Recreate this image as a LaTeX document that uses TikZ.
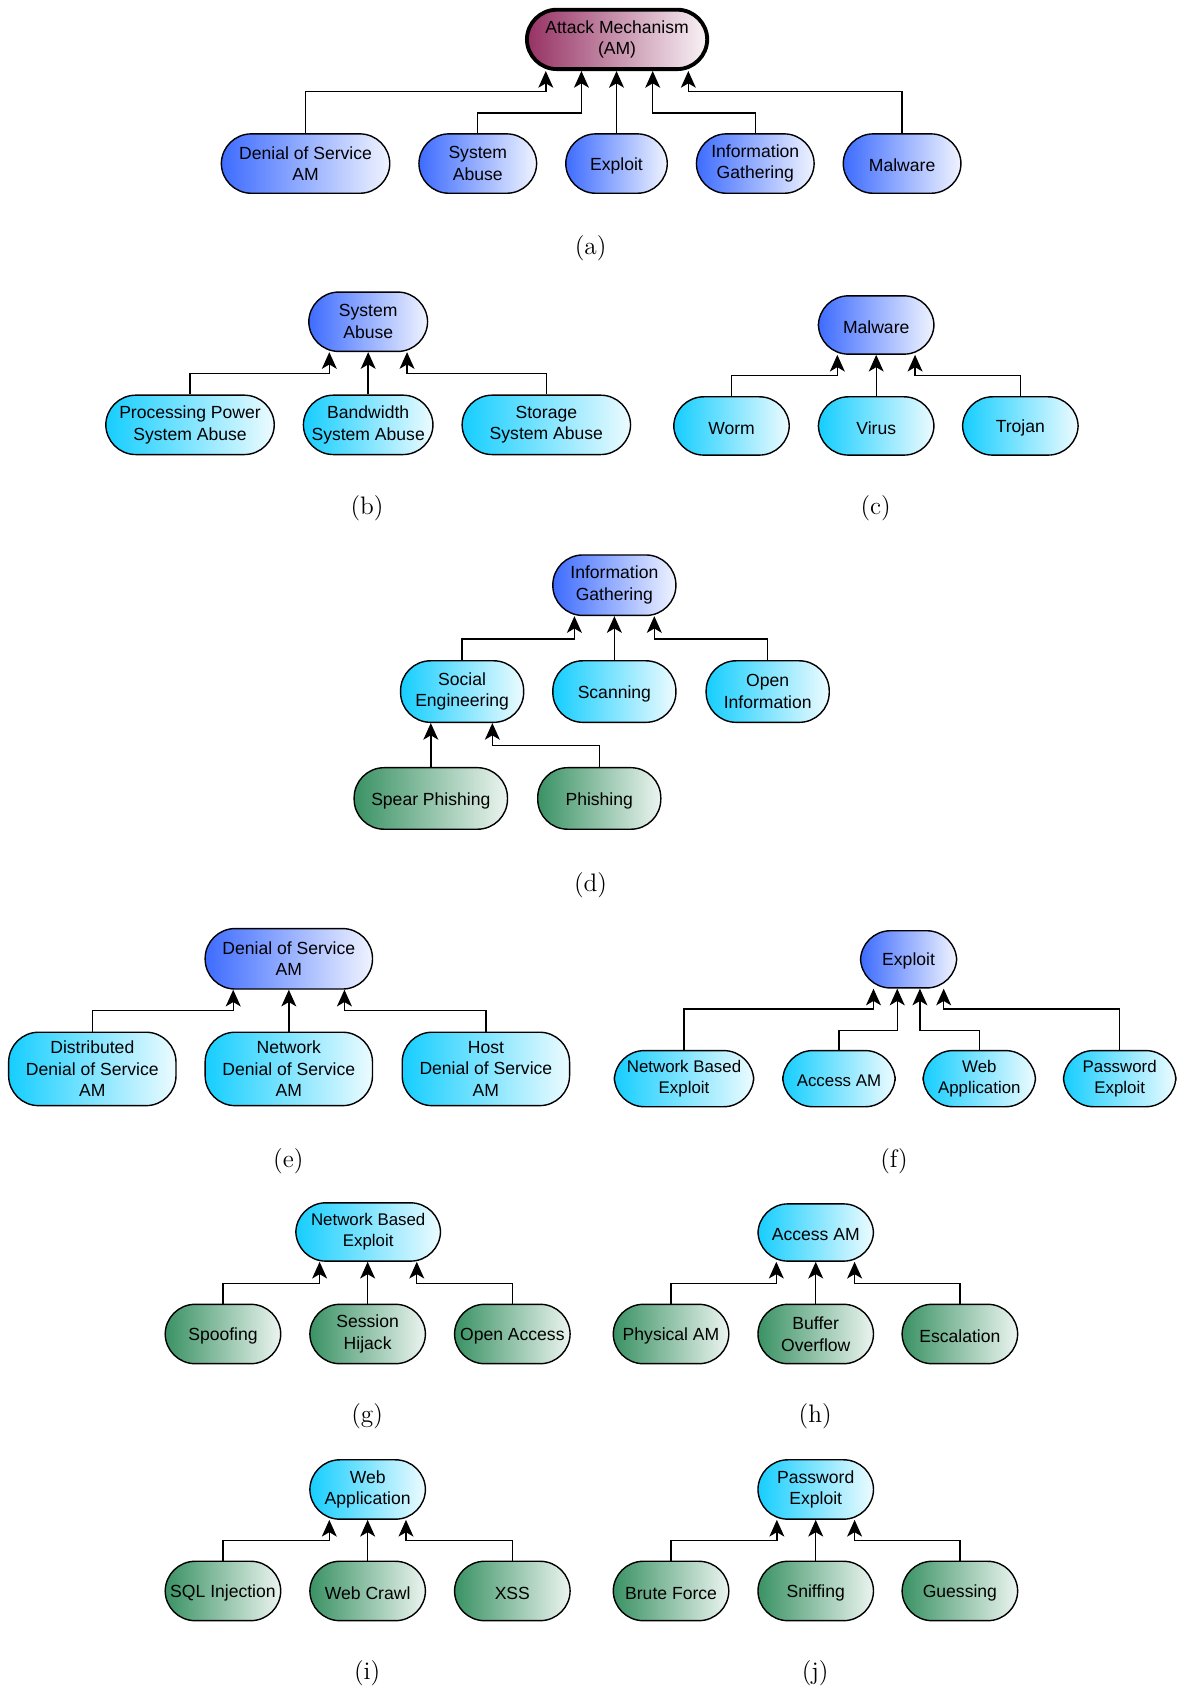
\documentclass[tikz,border=0pt]{standalone}
\usepackage{fontspec}
\setsansfont{Liberation Sans}
\usepackage{tikz}
\usetikzlibrary{arrows.meta,calc}

\definecolor{amred}{RGB}{150,50,100}
\definecolor{topblue}{RGB}{62,108,255}
\definecolor{midcyan}{RGB}{22,206,255}
\definecolor{leafgreen}{RGB}{58,146,100}

\begin{document}
\begin{tikzpicture}[
		x={(0.0216cm,0cm)},
		y={(0cm,-0.0216cm)},
		font=\sffamily\fontsize{10}{12.3}\selectfont,
		>=Stealth,
		box/.style={draw, line width=0.8pt, rounded corners=0.6cm, align=center,
			inner sep=0pt, minimum height=55*0.0216cm,
			execute at begin node={\rule{0pt}{9.6pt}}},
		wd/.style={minimum width=#1*0.0216cm},
		ht/.style={minimum height=#1*0.0216cm},
		rootbox/.style={box, line width=2.2pt, left color=amred, right color=amred!6},
		bluebox/.style={box, left color=topblue, right color=topblue!8},
		cyanbox/.style={box, left color=midcyan, right color=midcyan!8},
		greenbox/.style={box, left color=leafgreen, right color=leafgreen!10},
		link/.style={line width=0.8pt, -{Stealth[length=9.5pt,width=8.5pt,inset=2.5pt]}},
		subcap/.style={font=\Large}
		]
		\useasboundingbox (0,0) rectangle (1094,1568);
		
		% (a) attack mechanism
		\node[rootbox, wd=167] (am) at (571.5,36.5) {Attack Mechanism\\(AM)};
		\node[bluebox, wd=156] (dos) at (283,151.5) {Denial of Service\\AM};
		\node[bluebox, wd=109] (sa) at (442.5,151.5) {System\\Abuse};
		\node[bluebox, wd=94] (ex) at (571,151.5) {Exploit};
		\node[bluebox, wd=109] (ig) at (699.5,151.5) {Information\\Gathering};
		\node[bluebox, wd=109] (mw) at (835.5,151.5) {Malware};
		\draw[link] (dos.north) |- ($(am.south)+(-66,19)$) -- ($(am.south)+(-66,0)$);
		\draw[link] (sa.north) |- ($(am.south)+(-33,39)$) -- ($(am.south)+(-33,0)$);
		\draw[link] (ex.north) -- (ex.north |- am.south);
		\draw[link] (ig.north) |- ($(am.south)+(33,39)$) -- ($(am.south)+(33,0)$);
		\draw[link] (mw.north) |- ($(am.south)+(66,19)$) -- ($(am.south)+(66,0)$);
		\node[subcap] (capa) at (547,230) {(a)};
		
		% (b) system abuse
		\node[bluebox, wd=110] (sab) at (341,298) {System\\Abuse};
		\node[cyanbox, wd=156] (pp) at (176,393.5) {Processing Power\\System Abuse};
		\node[cyanbox, wd=120] (bw) at (341,393.5) {Bandwidth\\System Abuse};
		\node[cyanbox, wd=156] (st) at (506,393.5) {Storage\\System Abuse};
		\draw[link] (pp.north) |- ($(sab.south)+(-36,20)$) -- ($(sab.south)+(-36,0)$);
		\draw[link] (bw.north) -- (bw.north |- sab.south);
		\draw[link] (st.north) |- ($(sab.south)+(36,20)$) -- ($(sab.south)+(36,0)$);
		\node[subcap] (capb) at (340,471) {(b)};
		
		% (c) malware
		\node[bluebox, wd=107, ht=54] (mwc) at (811.5,301) {Malware};
		\node[cyanbox, wd=107, ht=54] (worm) at (677.5,394.5) {Worm};
		\node[cyanbox, wd=107, ht=54] (virus) at (811.5,394.5) {Virus};
		\node[cyanbox, wd=107, ht=54] (trojan) at (945,394.5) {Trojan};
		\draw[link] (worm.north) |- ($(mwc.south)+(-36,19)$) -- ($(mwc.south)+(-36,0)$);
		\draw[link] (virus.north) -- (virus.north |- mwc.south);
		\draw[link] (trojan.north) |- ($(mwc.south)+(36,19)$) -- ($(mwc.south)+(36,0)$);
		\node[subcap] (capc) at (811,471) {(c)};
		
		% (d) information gathering
		\node[bluebox, wd=114, ht=56] (igd) at (569,542) {Information\\Gathering};
		\node[cyanbox, wd=114, ht=57] (se) at (428,640.5) {Social\\Engineering};
		\node[cyanbox, wd=114, ht=57] (scan) at (569,640.5) {Scanning};
		\node[cyanbox, wd=114, ht=57] (oi) at (711,640.5) {Open\\Information};
		\node[greenbox, wd=142, ht=57] (sp) at (399,739.5) {Spear Phishing};
		\node[greenbox, wd=114, ht=57] (ph) at (555,739.5) {Phishing};
		\draw[link] (se.north) |- ($(igd.south)+(-37,21)$) -- ($(igd.south)+(-37,0)$);
		\draw[link] (scan.north) -- (scan.north |- igd.south);
		\draw[link] (oi.north) |- ($(igd.south)+(37,21)$) -- ($(igd.south)+(37,0)$);
		\draw[link] (sp.north) -- (sp.north |- se.south);
		\draw[link] (ph.north) |- ($(se.south)+(28,21)$) -- ($(se.south)+(28,0)$);
		\node[subcap] (capd) at (547,820) {(d)};
		
		% (e) denial of service
		\node[bluebox, wd=155, ht=56] (dosr) at (267.5,888) {Denial of Service\\AM};
		\node[cyanbox, wd=155, ht=68] (ddos) at (85.5,990) {Distributed\\Denial of Service\\AM};
		\node[cyanbox, wd=155, ht=68] (ndos) at (267.5,990) {Network\\Denial of Service\\AM};
		\node[cyanbox, wd=155, ht=68] (hdos) at (450,990) {Host\\Denial of Service\\AM};
		\draw[link] (ddos.north) |- ($(dosr.south)+(-51.5,19)$) -- ($(dosr.south)+(-51.5,0)$);
		\draw[link] (ndos.north) -- (ndos.north |- dosr.south);
		\draw[link] (hdos.north) |- ($(dosr.south)+(51.5,19)$) -- ($(dosr.south)+(51.5,0)$);
		\node[subcap] (cape) at (267,1075) {(e)};
		
		% (f) exploit
		\node[bluebox, wd=89, ht=53] (exr) at (841.5,888.5) {Exploit};
		\node[cyanbox, wd=129, ht=52, font=\sffamily\fontsize{9.6}{11.8}\selectfont] (nbe) at (633.5,999) {Network Based\\Exploit};
		\node[cyanbox, wd=104, ht=52, font=\sffamily\fontsize{9.6}{11.8}\selectfont] (acc) at (777,999) {Access AM};
		\node[cyanbox, wd=104, ht=52, font=\sffamily\fontsize{9.6}{11.8}\selectfont] (webapp) at (907,999) {Web\\Application};
		\node[cyanbox, wd=104, ht=52, font=\sffamily\fontsize{9.6}{11.8}\selectfont] (pwd) at (1037,999) {Password\\Exploit};
		\draw[link] (nbe.north) |- ($(exr.south)+(-32.5,19)$) -- ($(exr.south)+(-32.5,0)$);
		\draw[link] (acc.north) |- ($(exr.south)+(-10.5,39)$) -- ($(exr.south)+(-10.5,0)$);
		\draw[link] (webapp.north) |- ($(exr.south)+(10.5,39)$) -- ($(exr.south)+(10.5,0)$);
		\draw[link] (pwd.north) |- ($(exr.south)+(32.5,19)$) -- ($(exr.south)+(32.5,0)$);
		\node[subcap] (capf) at (828,1075) {(f)};
		
		% (g) network based exploit
		\node[cyanbox, wd=134, ht=54, font=\sffamily\fontsize{9.6}{11.8}\selectfont] (nber) at (341,1141) {Network Based\\Exploit};
		\node[greenbox, wd=107] (spoof) at (206.5,1235.5) {Spoofing};
		\node[greenbox, wd=107] (sess) at (340.5,1235.5) {Session\\Hijack};
		\node[greenbox, wd=107] (oa) at (474.5,1235.5) {Open Access};
		\draw[link] (spoof.north) |- ($(nber.south)+(-45,20)$) -- ($(nber.south)+(-45,0)$);
		\draw[link] (sess.north) -- (sess.north |- nber.south);
		\draw[link] (oa.north) |- ($(nber.south)+(45,20)$) -- ($(nber.south)+(45,0)$);
		\node[subcap] (capg) at (340,1312) {(g)};
		
		% (h) access
		\node[cyanbox, wd=107, ht=53] (accr) at (755.5,1141.5) {Access AM};
		\node[greenbox, wd=107] (phys) at (621.5,1235.5) {Physical AM};
		\node[greenbox, wd=107] (buf) at (755.5,1235.5) {Buffer\\Overflow};
		\node[greenbox, wd=107] (esc) at (889,1235.5) {Escalation};
		\draw[link] (phys.north) |- ($(accr.south)+(-36.5,20)$) -- ($(accr.south)+(-36.5,0)$);
		\draw[link] (buf.north) -- (buf.north |- accr.south);
		\draw[link] (esc.north) |- ($(accr.south)+(36,20)$) -- ($(accr.south)+(36,0)$);
		\node[subcap] (caph) at (755,1312) {(h)};
		
		% (i) web application
		\node[cyanbox, wd=107] (webr) at (340.5,1379.5) {Web\\Application};
		\node[greenbox, wd=107] (sql) at (206.5,1473.5) {SQL Injection};
		\node[greenbox, wd=107] (crawl) at (340.5,1473.5) {Web Crawl};
		\node[greenbox, wd=107] (xss) at (474.5,1473.5) {XSS};
		\draw[link] (sql.north) |- ($(webr.south)+(-35.5,19)$) -- ($(webr.south)+(-35.5,0)$);
		\draw[link] (crawl.north) -- (crawl.north |- webr.south);
		\draw[link] (xss.north) |- ($(webr.south)+(35.5,19)$) -- ($(webr.south)+(35.5,0)$);
		\node[subcap] (capi) at (340,1550) {(i)};
		
		% (j) password exploit
		\node[cyanbox, wd=107] (pwdr) at (755.5,1379.5) {Password\\Exploit};
		\node[greenbox, wd=107] (brute) at (621.5,1473.5) {Brute Force};
		\node[greenbox, wd=107] (sniff) at (755.5,1473.5) {Sniffing};
		\node[greenbox, wd=107] (guess) at (889,1473.5) {Guessing};
		\draw[link] (brute.north) |- ($(pwdr.south)+(-36,19)$) -- ($(pwdr.south)+(-36,0)$);
		\draw[link] (sniff.north) -- (sniff.north |- pwdr.south);
		\draw[link] (guess.north) |- ($(pwdr.south)+(36,19)$) -- ($(pwdr.south)+(36,0)$);
		\node[subcap] (capj) at (755,1550) {(j)};
		
	\end{tikzpicture}
\end{document}
